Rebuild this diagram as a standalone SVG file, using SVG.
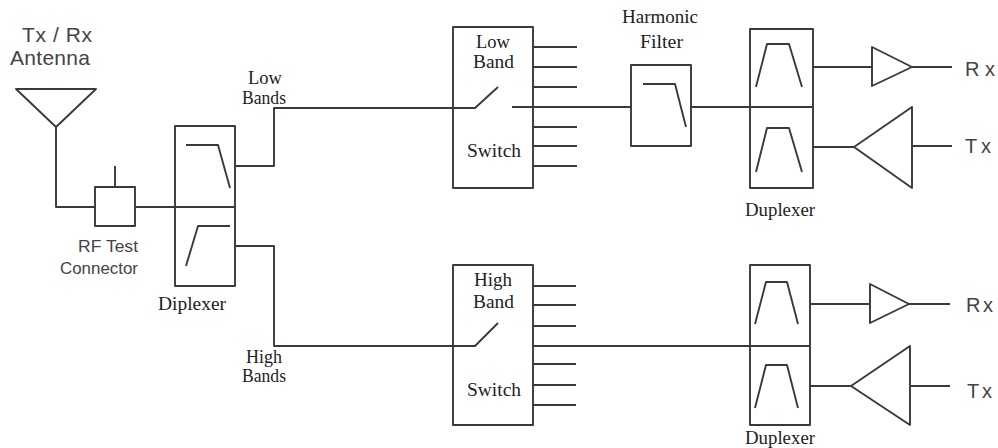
<svg xmlns="http://www.w3.org/2000/svg" width="998" height="448" viewBox="0 0 998 448">
<style>
.s{fill:none;stroke:#3a3a3a;stroke-width:1.9;stroke-linejoin:round}
.t{font-family:"Liberation Serif",serif;font-size:18.5px;fill:#222}
.a{font-family:"Liberation Sans",sans-serif;fill:#444}
</style>
<rect width="998" height="448" fill="#fff"/>
<g id="connectors" class="s">
<path d="M56 127V207H95M135 207H175"/>
<path d="M115 166V187"/>
<path d="M235 166H274V108H475L498 87"/>
<path d="M235 246H274V346H475L498 323"/>
<path d="M512 107H631M691 107H750"/>
<path d="M533 346H750"/>
<path d="M813 67H872M912 67H952M813 147H854M912 146H952"/>
<path d="M810 304H870M909 304H950M810 386H851M910 386H950"/>
<path d="M533 47H577M533 67H577M533 87H577M533 127H577M533 146H577M533 166H577"/>
<path d="M533 286H576M533 305H576M533 326H576M533 364H576M533 385H576M533 405H576"/>
</g>
<g id="antenna">
<path class="s" d="M16 89H96L56 127Z"/>
<text class="a" font-size="21" x="22" y="42" textLength="70" lengthAdjust="spacing">Tx / Rx</text>
<text class="a" font-size="21" x="10" y="65" textLength="80" lengthAdjust="spacing">Antenna</text>
</g>
<g id="rf-test-connector">
<rect class="s" x="95" y="187" width="40" height="39"/>
<text class="a" font-size="17" x="78" y="252" textLength="60" lengthAdjust="spacingAndGlyphs">RF Test</text>
<text class="a" font-size="17" x="60" y="274" textLength="78" lengthAdjust="spacingAndGlyphs">Connector</text>
</g>
<g id="diplexer">
<path class="s" d="M175 126H235V286H175ZM175 207H235"/>
<path class="s" d="M186 145H218L230 188M186 266L198 226H230"/>
<text class="t" x="158" y="310" textLength="68" lengthAdjust="spacingAndGlyphs">Diplexer</text>
</g>
<g id="low-bands-label">
<text class="t" x="248" y="84" textLength="34" lengthAdjust="spacingAndGlyphs">Low</text>
<text class="t" x="242" y="104" textLength="44" lengthAdjust="spacingAndGlyphs">Bands</text>
</g>
<g id="high-bands-label">
<text class="t" x="246" y="363" textLength="36" lengthAdjust="spacingAndGlyphs">High</text>
<text class="t" x="242" y="382" textLength="44" lengthAdjust="spacingAndGlyphs">Bands</text>
</g>
<g id="low-band-switch">
<path class="s" d="M453 27H533V188H453Z"/>
<text class="t" x="476" y="48" textLength="34" lengthAdjust="spacingAndGlyphs">Low</text>
<text class="t" x="473" y="68" textLength="41" lengthAdjust="spacingAndGlyphs">Band</text>
<text class="t" x="467" y="157" textLength="54" lengthAdjust="spacingAndGlyphs">Switch</text>
</g>
<g id="harmonic-filter">
<rect class="s" x="631" y="65" width="60" height="81"/>
<path class="s" d="M643 84H675L686 127"/>
<text class="t" x="622" y="23" textLength="76" lengthAdjust="spacingAndGlyphs">Harmonic</text>
<text class="t" x="640" y="48" textLength="43" lengthAdjust="spacingAndGlyphs">Filter</text>
</g>
<g id="duplexer-low">
<path class="s" d="M750 29H813V188H750ZM750 107H813"/>
<path class="s" d="M756 87L767 44H789L802 87M756 172L767 128H789L802 172"/>
<text class="t" x="745" y="216" textLength="70" lengthAdjust="spacingAndGlyphs">Duplexer</text>
</g>
<g id="rx-amp-low">
<path class="s" d="M872 47L912 67L872 86Z"/>
<text class="a" font-size="20" x="965" y="76" textLength="30" lengthAdjust="spacing">Rx</text>
</g>
<g id="tx-amp-low">
<path class="s" d="M912 107L854 147L912 188Z"/>
<text class="a" font-size="20" x="965" y="153" textLength="26" lengthAdjust="spacing">Tx</text>
</g>
<g id="high-band-switch">
<path class="s" d="M453 265H533V425H453Z"/>
<text class="t" x="474" y="286" textLength="38" lengthAdjust="spacingAndGlyphs">High</text>
<text class="t" x="473" y="308" textLength="41" lengthAdjust="spacingAndGlyphs">Band</text>
<text class="t" x="467" y="396" textLength="54" lengthAdjust="spacingAndGlyphs">Switch</text>
</g>
<g id="duplexer-high">
<path class="s" d="M750 265H810V425H750ZM750 346H810"/>
<path class="s" d="M755 324L766 282H787L798 324M755 408L766 365H787L798 408"/>
<text class="t" x="745" y="444" textLength="70" lengthAdjust="spacingAndGlyphs">Duplexer</text>
</g>
<g id="rx-amp-high">
<path class="s" d="M870 284L909 304L870 323Z"/>
<text class="a" font-size="20" x="966" y="312" textLength="27" lengthAdjust="spacing">Rx</text>
</g>
<g id="tx-amp-high">
<path class="s" d="M910 346L851 386L910 425Z"/>
<text class="a" font-size="20" x="967" y="398" textLength="25" lengthAdjust="spacing">Tx</text>
</g>
</svg>
